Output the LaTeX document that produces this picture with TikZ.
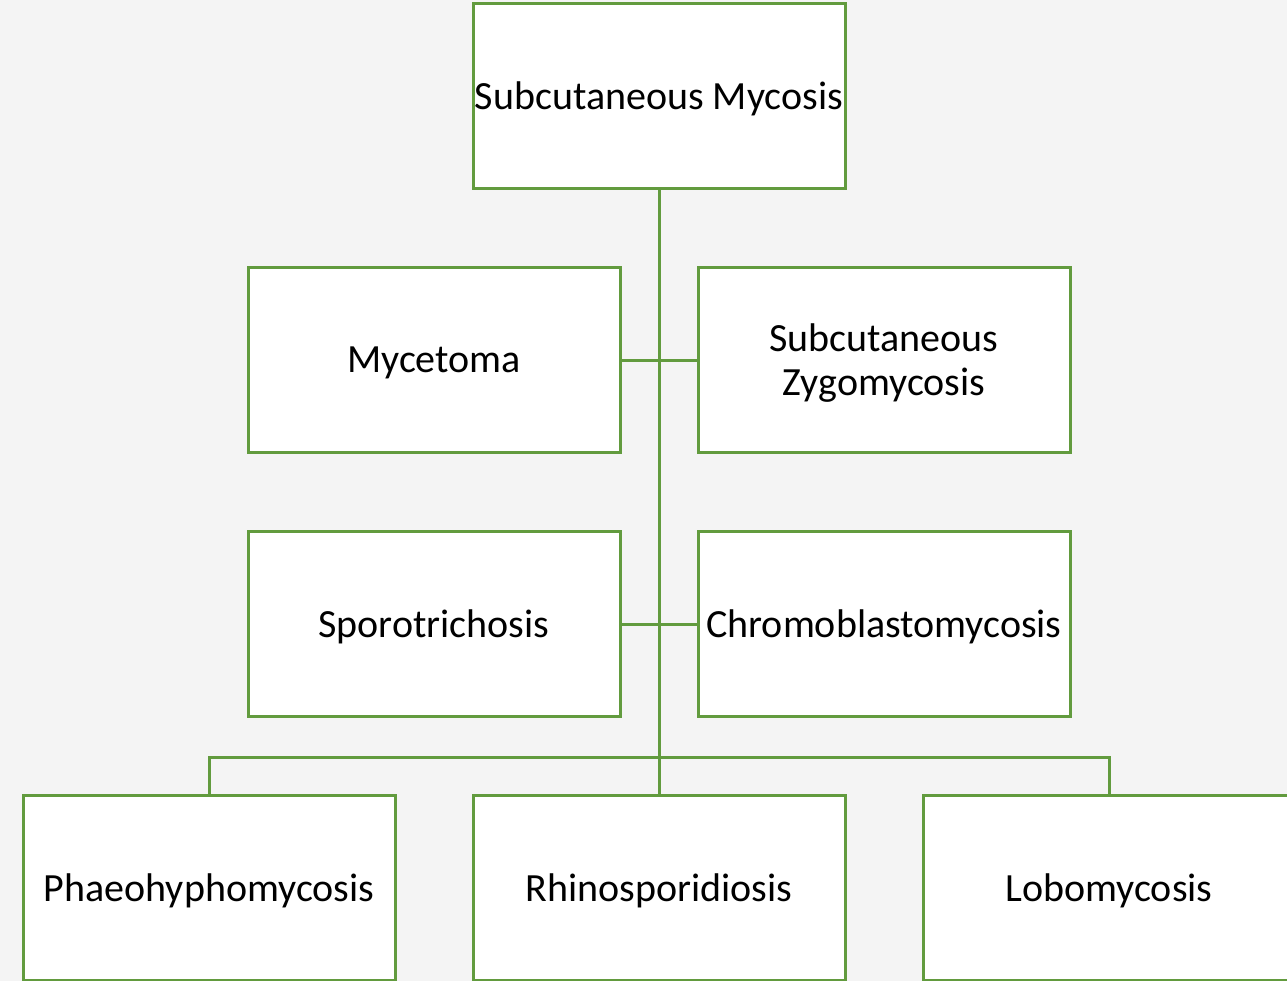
\documentclass[tikz,border=0pt]{standalone}
\usepackage{fontspec}
\setmainfont{Carlito}
\definecolor{bg}{RGB}{244,244,244}
\definecolor{grn}{RGB}{98,155,62}
\begin{document}
\begin{tikzpicture}[x=1pt,y=-1pt,
  box/.style={draw=grn,line width=3pt,fill=white,minimum width=372pt,minimum height=185pt,inner sep=0pt},
  txt/.style={align=center,inner sep=0pt,font=\fontsize{40}{44}\selectfont,text=black},
  conn/.style={draw=grn,line width=3pt}]
\fill[bg] (0,0) rectangle (1287,981);
\useasboundingbox (0,0) rectangle (1287,981);
\begin{scope}
\clip (0,0) rectangle (1287,981);
\node[box] (top) at (659,96) {};
\node[box] (myc) at (434,360) {};
\node[box] (zyg) at (884,360) {};
\node[box] (spo) at (434,624) {};
\node[box] (chr) at (884,624) {};
\node[box] (pha) at (209,888) {};
\node[box] (rhi) at (659,888) {};
\node[box] (lob) at (1109,888) {};
\node[txt] (topt) at ([yshift=-3pt]top.center) {Subcutaneous Mycosis};
\node[txt] (myct) at ([yshift=-3pt]myc.center) {Mycetoma};
\node[txt] (zygt) at ([yshift=-3pt]zyg.center) {Subcutaneous\\Zygomycosis};
\node[txt] (spot) at ([yshift=-3pt]spo.center) {Sporotrichosis};
\node[txt] (chrt) at ([yshift=-3pt]chr.center) {Chromoblastomycosis};
\node[txt] (phat) at ([yshift=-3pt]pha.center) {Phaeohyphomycosis};
\node[txt] (rhit) at ([yshift=-3pt]rhi.center) {Rhinosporidiosis};
\node[txt] (lobt) at ([yshift=-3pt]lob.center) {Lobomycosis};
\coordinate (bus) at (659,757);
\draw[conn] (top.south) -- (rhi.north);
\draw[conn] (myc.east) -- (zyg.west);
\draw[conn] (spo.east) -- (chr.west);
\draw[conn] (pha.north) |- (bus) -| (lob.north);
\end{scope}
\end{tikzpicture}
\end{document}
